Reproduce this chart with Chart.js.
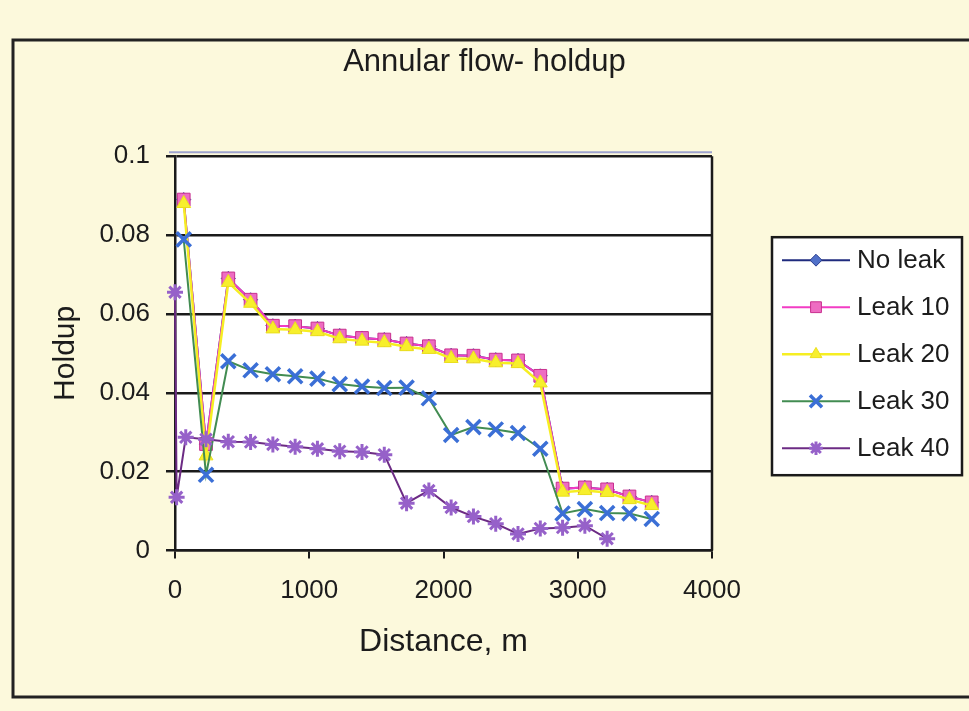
<!DOCTYPE html>
<html>
<head>
<meta charset="utf-8">
<title>Annular flow- holdup</title>
<script src="https://cdn.jsdelivr.net/npm/chart.js@4.4.1/dist/chart.umd.min.js"></script>
<style>
    html, body { margin: 0; padding: 0; background: #fcf9dc; }
    #grafico { display: block; }
</style>
</head>
<body>
<canvas id="grafico" width="969" height="711"></canvas>
<script>
// Distâncias ao longo da linha (m)
var distancias = [65, 231, 397, 563, 729, 895, 1061, 1227, 1393, 1559, 1725, 1891, 2057, 2223, 2389, 2555, 2721, 2887, 3053, 3219, 3385, 3551];
var distanciasLeak40 = [0, 12, 80, 231, 397, 563, 729, 895, 1061, 1227, 1393, 1559, 1725, 1891, 2057, 2223, 2389, 2555, 2721, 2887, 3053, 3219];

// Holdup de cada série
var semVazamento = [0.089, 0.027, 0.069, 0.0636, 0.057, 0.0569, 0.0563, 0.0545, 0.0539, 0.0535, 0.0525, 0.0518, 0.0495, 0.0494, 0.0484, 0.0482, 0.0443, 0.0157, 0.016, 0.0155, 0.0137, 0.0122];
var leak10 = [0.089, 0.027, 0.069, 0.0636, 0.057, 0.0569, 0.0563, 0.0545, 0.0539, 0.0535, 0.0525, 0.0518, 0.0495, 0.0494, 0.0484, 0.0482, 0.0443, 0.0157, 0.016, 0.0155, 0.0137, 0.0122];
var leak20 = [0.088, 0.024, 0.068, 0.0627, 0.0562, 0.056, 0.0555, 0.0537, 0.0531, 0.0527, 0.0517, 0.051, 0.0487, 0.0486, 0.0476, 0.0474, 0.0425, 0.0148, 0.0152, 0.0147, 0.0129, 0.0114];
var leak30 = [0.0789, 0.0192, 0.048, 0.0457, 0.0447, 0.0442, 0.0436, 0.0422, 0.0416, 0.0412, 0.0413, 0.0386, 0.0293, 0.0313, 0.0307, 0.0298, 0.0258, 0.0094, 0.0105, 0.0095, 0.0094, 0.008];
var leak40 = [0.0655, 0.0135, 0.0287, 0.0282, 0.0276, 0.0275, 0.0269, 0.0263, 0.0258, 0.0252, 0.025, 0.0243, 0.012, 0.0152, 0.0109, 0.0086, 0.0068, 0.0042, 0.0056, 0.0058, 0.0063, 0.003];

// Marcas dos eixos
var ticksX = [0, 1000, 2000, 3000, 4000];
var ticksY = [0, 0.02, 0.04, 0.06, 0.08, 0.1];

var fonte = '"Liberation Sans", Arial, sans-serif';
var corTexto = '#1c1c1c';

// Junta distâncias e valores em pontos
function montarPontos(xs, ys) {
    return xs.map(function (d, i) {
        return { x: d, y: ys[i] };
    });
}

// Desenha o marcador de uma série
function desenharMarcador(g, serie, x, y) {
    g.fillStyle = serie.pointBackgroundColor;
    g.strokeStyle = serie.pointBorderColor;
    g.lineWidth = serie.pointBorderWidth;
    if (Chart.helpers && Chart.helpers.drawPoint) {
        Chart.helpers.drawPoint(g, {
            pointStyle: serie.pointStyle,
            rotation: 0,
            radius: serie.pointRadius * 0.85,
            borderWidth: serie.pointBorderWidth
        }, x, y);
    } else {
        g.beginPath();
        g.arc(x, y, 6, 0, Math.PI * 2);
        g.fill();
    }
}

// Fundo amarelado, moldura e área branca
var fundoPlugin = {
    id: 'fundo',
    beforeDraw: function (chart) {
        var ctx = chart.ctx;
        var area = chart.chartArea;
        ctx.save();
        ctx.fillStyle = '#fcf9dc';
        ctx.fillRect(0, 0, chart.width, chart.height);

        ctx.strokeStyle = '#222';
        ctx.lineWidth = 3;
        ctx.beginPath();
        ctx.moveTo(chart.width + 5, 40);
        ctx.lineTo(13, 40);
        ctx.lineTo(13, 697);
        ctx.lineTo(chart.width + 5, 697);
        ctx.stroke();

        ctx.fillStyle = '#ffffff';
        ctx.fillRect(area.left, area.top, area.right - area.left, area.bottom - area.top);
        ctx.restore();
    },
    beforeDatasetsDraw: function (chart) {
        var ctx = chart.ctx;
        var area = chart.chartArea;
        ctx.save();
        ctx.strokeStyle = '#1a1a1a';
        ctx.lineWidth = 2.5;
        ctx.beginPath();
        ctx.moveTo(area.right, area.top);
        ctx.lineTo(area.right, area.bottom);
        ctx.stroke();
        ctx.strokeStyle = '#9ea3cf';
        ctx.lineWidth = 2;
        ctx.beginPath();
        ctx.moveTo(area.left - 6, area.top - 4);
        ctx.lineTo(area.right, area.top - 4);
        ctx.stroke();
        ctx.restore();
    }
};

// Legenda em caixa à direita do gráfico
var legendaPlugin = {
    id: 'legendaCaixa',
    afterDraw: function (chart) {
        var ctx = chart.ctx;
        var area = chart.chartArea;
        var x = area.right + 60;
        var y = area.top + 81;
        var w = 190;
        var passo = 47;
        var h = 238;
        ctx.save();
        ctx.fillStyle = '#ffffff';
        ctx.fillRect(x, y, w, h);
        ctx.lineWidth = 2.5;
        ctx.strokeStyle = '#1a1a1a';
        ctx.strokeRect(x, y, w, h);

        chart.data.datasets.forEach(function (serie, i) {
            var cy = y + 23 + passo * i;
            ctx.strokeStyle = serie.borderColor;
            ctx.lineWidth = serie.borderWidth;
            ctx.beginPath();
            ctx.moveTo(x + 10, cy);
            ctx.lineTo(x + 78, cy);
            ctx.stroke();
            desenharMarcador(ctx, serie, x + 44, cy);
            ctx.fillStyle = corTexto;
            ctx.font = '26px ' + fonte;
            ctx.textAlign = 'left';
            ctx.textBaseline = 'middle';
            ctx.fillText(serie.label, x + 85, cy + 1);
        });
        ctx.restore();
    }
};

var series = [
    {
        label: 'No leak',
        data: montarPontos(distancias, semVazamento),
        borderColor: '#1f2b7e', borderWidth: 2,
        pointStyle: 'rectRot', pointRadius: 7,
        pointBackgroundColor: '#5070c8', pointBorderColor: '#2c3f90', pointBorderWidth: 1,
        order: 5
    },
    {
        label: 'Leak 10',
        data: montarPontos(distancias, leak10),
        borderColor: '#f23cc4', borderWidth: 2,
        pointStyle: 'rect', pointRadius: 9,
        pointBackgroundColor: '#ee6cc2', pointBorderColor: '#c8308f', pointBorderWidth: 1,
        order: 4
    },
    {
        label: 'Leak 20',
        data: montarPontos(distancias, leak20),
        borderColor: '#f6ee22', borderWidth: 2.5,
        pointStyle: 'triangle', pointRadius: 8,
        pointBackgroundColor: '#f7ef2c', pointBorderColor: '#eadf1c', pointBorderWidth: 1,
        order: 3
    },
    {
        label: 'Leak 30',
        data: montarPontos(distancias, leak30),
        borderColor: '#428c52', borderWidth: 2,
        pointStyle: 'crossRot', pointRadius: 10,
        pointBackgroundColor: '#3b6fd6', pointBorderColor: '#3b6fd6', pointBorderWidth: 3.5,
        order: 2
    },
    {
        label: 'Leak 40',
        data: montarPontos(distanciasLeak40, leak40),
        borderColor: '#6c2b84', borderWidth: 2,
        pointStyle: 'star', pointRadius: 8,
        pointBackgroundColor: '#9661c9', pointBorderColor: '#9661c9', pointBorderWidth: 3,
        order: 1
    }
];

var ctx = document.getElementById('grafico').getContext('2d');
var grafico = new Chart(ctx, {
    type: 'scatter',
    data: {
        datasets: series.map(function (s) {
            s.showLine = true;
            s.tension = 0;
            s.fill = false;
            s.clip = false;
            return s;
        })
    },
    plugins: [fundoPlugin, legendaPlugin],
    options: {
        responsive: false,
        animation: false,
        devicePixelRatio: 1,
        layout: { padding: 0 },
        plugins: {
            title: {
                display: true,
                text: 'Annular flow- holdup',
                color: corTexto,
                font: { family: fonte, size: 31, weight: 'normal' },
                padding: { top: 44, bottom: 75 }
            },
            legend: { display: false },
            tooltip: { enabled: false }
        },
        scales: {
            x: {
                type: 'linear',
                position: 'bottom',
                min: 0,
                max: 4000,
                afterBuildTicks: function (escala) {
                    escala.ticks = ticksX.map(function (v) { return { value: v }; });
                },
                afterFit: function (escala) { escala.height = 160.5; },
                ticks: {
                    color: corTexto,
                    font: { family: fonte, size: 26 },
                    padding: 17,
                    maxRotation: 0,
                    callback: function (v) { return String(v); }
                },
                grid: { drawOnChartArea: false, drawTicks: true, tickLength: 8, color: '#1a1a1a', lineWidth: 2 },
                border: { display: true, color: '#1a1a1a', width: 2.5 },
                title: {
                    display: true,
                    text: 'Distance, m',
                    color: corTexto,
                    font: { family: fonte, size: 32 },
                    padding: { top: 0, bottom: 50 }
                }
            },
            y: {
                type: 'linear',
                min: 0,
                max: 0.1,
                afterBuildTicks: function (escala) {
                    escala.ticks = ticksY.map(function (v) { return { value: v }; });
                },
                afterFit: function (escala) { escala.width = 175; },
                ticks: {
                    color: corTexto,
                    font: { family: fonte, size: 26 },
                    padding: 16,
                    callback: function (v) { return String(parseFloat(Number(v).toFixed(2))); }
                },
                grid: { color: '#1a1a1a', lineWidth: 2.5, tickLength: 9 },
                border: { display: true, color: '#1a1a1a', width: 2.5 },
                title: {
                    display: true,
                    text: 'Holdup',
                    color: corTexto,
                    font: { family: fonte, size: 30 },
                    padding: { top: 48, bottom: 0 }
                }
            },
            // espaço reservado para a legenda à direita
            espacoLegenda: {
                type: 'linear',
                position: 'right',
                display: true,
                afterFit: function (escala) { escala.width = 257; },
                ticks: { display: false },
                grid: { display: false },
                border: { display: false },
                title: { display: false }
            }
        }
    }
});
</script>
</body>
</html>
